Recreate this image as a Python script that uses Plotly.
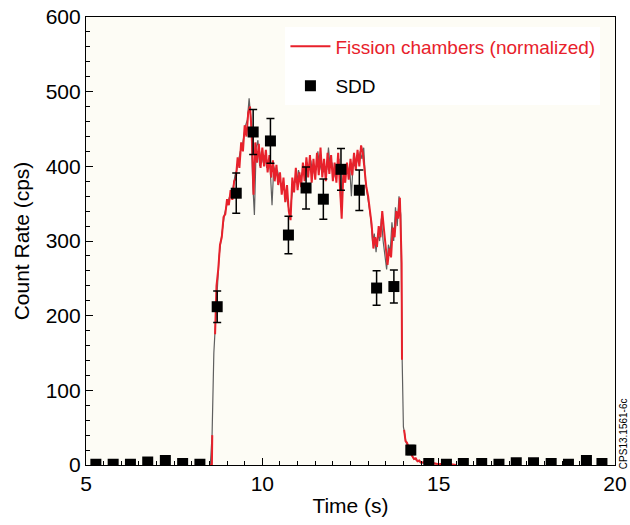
import plotly.graph_objects as go

# ---- SDD data (points with error bars) ----
sdd_time = [5.28, 5.77, 6.26, 6.75, 7.25, 7.74, 8.23, 8.72, 9.26, 9.74, 10.23, 10.74,
            11.24, 11.73, 12.23, 12.75, 13.24, 13.73, 14.21, 14.72, 15.22, 15.70,
            16.22, 16.71, 17.20, 17.69, 18.19, 18.68, 19.19, 19.63]
sdd_rate = [1, 1, 1, 4, 6, 2, 1, 212, 364, 446, 434, 308, 371, 356, 396, 368, 237, 239,
            20, 2, 1, 2, 2, 1, 3, 3, 2, 1, 6, 2]
sdd_err = [0, 0, 0, 0, 0, 0, 0, 21, 27, 30, 30, 25, 28, 27, 28, 27, 23, 22,
           6, 0, 0, 0, 0, 0, 0, 0, 0, 0, 0, 0]

# ---- Fission chambers (normalized), red trace ----
fc_time = [8.50, 8.55, 8.57, 8.58, None, 8.66, 8.70, 8.75, 8.80, 8.85, 8.90, 8.95, 9.00,
           9.05, 9.10, 9.15, 9.20, 9.25, 9.30, 9.35, 9.40, 9.45, 9.50, 9.55, 9.60, 9.65,
           9.70, 9.75, 9.80, 9.85, 9.90, 9.95, 10.00, 10.05, 10.10, 10.15, 10.20, 10.25,
           10.30, 10.35, 10.40, 10.45, 10.50, 10.55, 10.60, 10.65, 10.70, 10.75, 10.80,
           10.85, 10.90, 10.95, 11.00, 11.05, 11.10, 11.15, 11.20, 11.25, 11.30, 11.35,
           11.40, 11.45, 11.50, 11.55, 11.60, 11.65, 11.70, 11.75, 11.80, 11.85, 11.90,
           11.95, 12.00, 12.05, 12.10, 12.15, 12.20, 12.25, 12.30, 12.35, 12.40, 12.45,
           12.50, 12.55, 12.60, 12.65, 12.70, 12.75, 12.80, 12.85, 12.90, 12.95, 13.00,
           13.05, 13.10, 13.15, 13.20, 13.25, 13.30, 13.35, 13.40, 13.45, 13.50, 13.55,
           13.60, 13.65, 13.70, 13.75, 13.80, 13.85, 13.90, 13.95, 13.96, None, 14.02,
           14.06, 14.10, 14.15, 14.20, 14.25, 14.30, 14.35, 14.40, 14.45, 14.50, 14.60,
           14.70, 14.80, 15.00, 15.20, 15.50]
fc_rate = [0, 0, 0, 40, None, 175, 240, 262, 295, 305, 332, 336, 356,
           348, 368, 355, 380, 384, 412, 398, 432, 420, 455, 440, 472, 480,
           445, 362, 432, 405, 430, 398, 425, 400, 422, 392, 415, 385,
           408, 380, 402, 375, 392, 362, 385, 352, 375, 340, 328,
           385, 365, 398, 368, 392, 372, 405, 380, 412, 385, 415,
           378, 410, 382, 418, 388, 425, 385, 410, 380, 418, 390,
           415, 380, 405, 378, 418, 372, 330, 395, 378, 405, 382,
           410, 388, 418, 395, 422, 400, 428, 418, 395, 372, 360,
           340, 322, 290, 305, 292, 320, 305, 340, 315, 288, 268,
           290, 278, 318, 305, 340, 330, 358, 270, 141, None, 47,
           32, 30, 22, 17, 12, 8, 9, 5, 6, 3, 4,
           2, 3, 1, 2, 0]

# ---- second (grey) fission chamber trace ----
fc2_time = [8.525, 8.575, 8.625, 8.675, 8.725, 8.775, 8.825, 8.875, 8.925, 8.975, 9.025,
            9.075, 9.125, 9.175, 9.225, 9.275, 9.325, 9.375, 9.425, 9.475, 9.525, 9.575,
            9.625, 9.675, 9.725, 9.775, 9.825, 9.875, 9.925, 9.975, 10.025, 10.075,
            10.125, 10.175, 10.225, 10.275, 10.325, 10.375, 10.425, 10.475, 10.525,
            10.575, 10.625, 10.675, 10.725, 10.775, 10.825, 10.875, 10.925, 10.975,
            11.025, 11.075, 11.125, 11.175, 11.225, 11.275, 11.325, 11.375, 11.425,
            11.475, 11.525, 11.575, 11.625, 11.675, 11.725, 11.775, 11.825, 11.875,
            11.925, 11.975, 12.025, 12.075, 12.125, 12.175, 12.225, 12.275, 12.325,
            12.375, 12.425, 12.475, 12.525, 12.575, 12.625, 12.675, 12.725, 12.775,
            12.825, 12.875, 12.925, 12.975, 13.025, 13.075, 13.125, 13.175, 13.225,
            13.275, 13.325, 13.375, 13.425, 13.475, 13.525, 13.575, 13.625, 13.675,
            13.725, 13.775, 13.825, 13.875, 13.925, 13.965, 14.000, 14.025, 14.075,
            14.125, 14.175, 14.275, 14.400, 14.600, 15.000, 15.500]
fc2_rate = [0, 40, 150, 200, 250, 280, 300, 322, 335, 345, 352,
            360, 358, 372, 388, 395, 408, 420, 425, 440, 455, 462,
            491, 465, 380, 335, 425, 435, 400, 420, 405, 415,
            398, 410, 395, 348, 400, 390, 395, 385, 375,
            368, 370, 360, 350, 335, 360, 375, 380, 378,
            395, 385, 390, 400, 395, 405, 395, 408, 390,
            402, 395, 420, 395, 405, 392, 400, 395, 425,
            398, 405, 385, 400, 395, 410, 350, 380, 390,
            395, 390, 400, 360, 405, 400, 415, 405, 420,
            410, 425, 380, 365, 350, 330, 300, 310, 285,
            310, 300, 330, 300, 280, 262, 295, 285, 325,
            300, 345, 320, 360, 335, 141, 51, 45, 30,
            25, 18, 10, 5, 2, 1, 0]

RED = "#E8212B"
FONT = "Liberation Sans, Arial, sans-serif"

fig = go.Figure()

fig.add_trace(go.Scatter(
    x=fc2_time, y=fc2_rate, mode="lines",
    line=dict(color="#5f5f5f", width=1.2),
    showlegend=False, hoverinfo="skip", connectgaps=False))

fig.add_trace(go.Scatter(
    x=fc_time, y=fc_rate, mode="lines",
    line=dict(color=RED, width=2),
    name=f'<span style="color:{RED}">Fission chambers (normalized)</span>',
    legendgroup="fc", connectgaps=False))

fig.add_trace(go.Scatter(
    x=sdd_time, y=sdd_rate, mode="markers",
    marker=dict(symbol="square", size=11, color="black"),
    error_y=dict(type="data", array=sdd_err, visible=True,
                 color="black", thickness=1.5, width=4),
    name="SDD", legendgroup="sdd"))

axis_common = dict(
    showline=True, linecolor="black", linewidth=1.2, mirror=True,
    ticks="inside", ticklen=7, tickcolor="black", tickwidth=1,
    showgrid=False, zeroline=False, automargin=False,
    ticklabeloverflow="allow",
    tickfont=dict(family=FONT, size=21, color="black"),
)

fig.update_layout(
    width=630, height=525,
    margin=dict(l=86, r=15, t=17, b=60),
    paper_bgcolor="white",
    plot_bgcolor="#FDFCF5",
    font=dict(family=FONT, color="black"),
    xaxis=dict(range=[5, 20], dtick=5, tick0=5,
               minor=dict(dtick=0.5, ticks="inside", ticklen=4, tickcolor="black"),
               title=dict(text="Time (s)", font=dict(family=FONT, size=21), standoff=4),
               **axis_common),
    yaxis=dict(range=[0, 600], dtick=100,
               minor=dict(dtick=20, ticks="inside", ticklen=4, tickcolor="black"),
               title=dict(text="Count Rate (cps)", font=dict(family=FONT, size=21), standoff=10),
               **axis_common),
    legend=dict(x=0.377, y=0.977, xanchor="left", yanchor="top",
                bgcolor="white", borderwidth=0,
                font=dict(family=FONT, size=19, color="black"),
                traceorder="grouped", tracegroupgap=12, itemwidth=40),
    showlegend=True,
    annotations=[dict(text="CPS13.1561-6c", xref="paper", yref="paper",
                      x=1.0, xshift=1, y=0.07, xanchor="left", yanchor="middle",
                      textangle=-90, showarrow=False,
                      font=dict(family=FONT, size=10, color="black"))],
)

fig.write_html("out.html", config={"displayModeBar": False},
               post_script="document.body.style.margin='0';document.body.style.overflow='hidden';")
